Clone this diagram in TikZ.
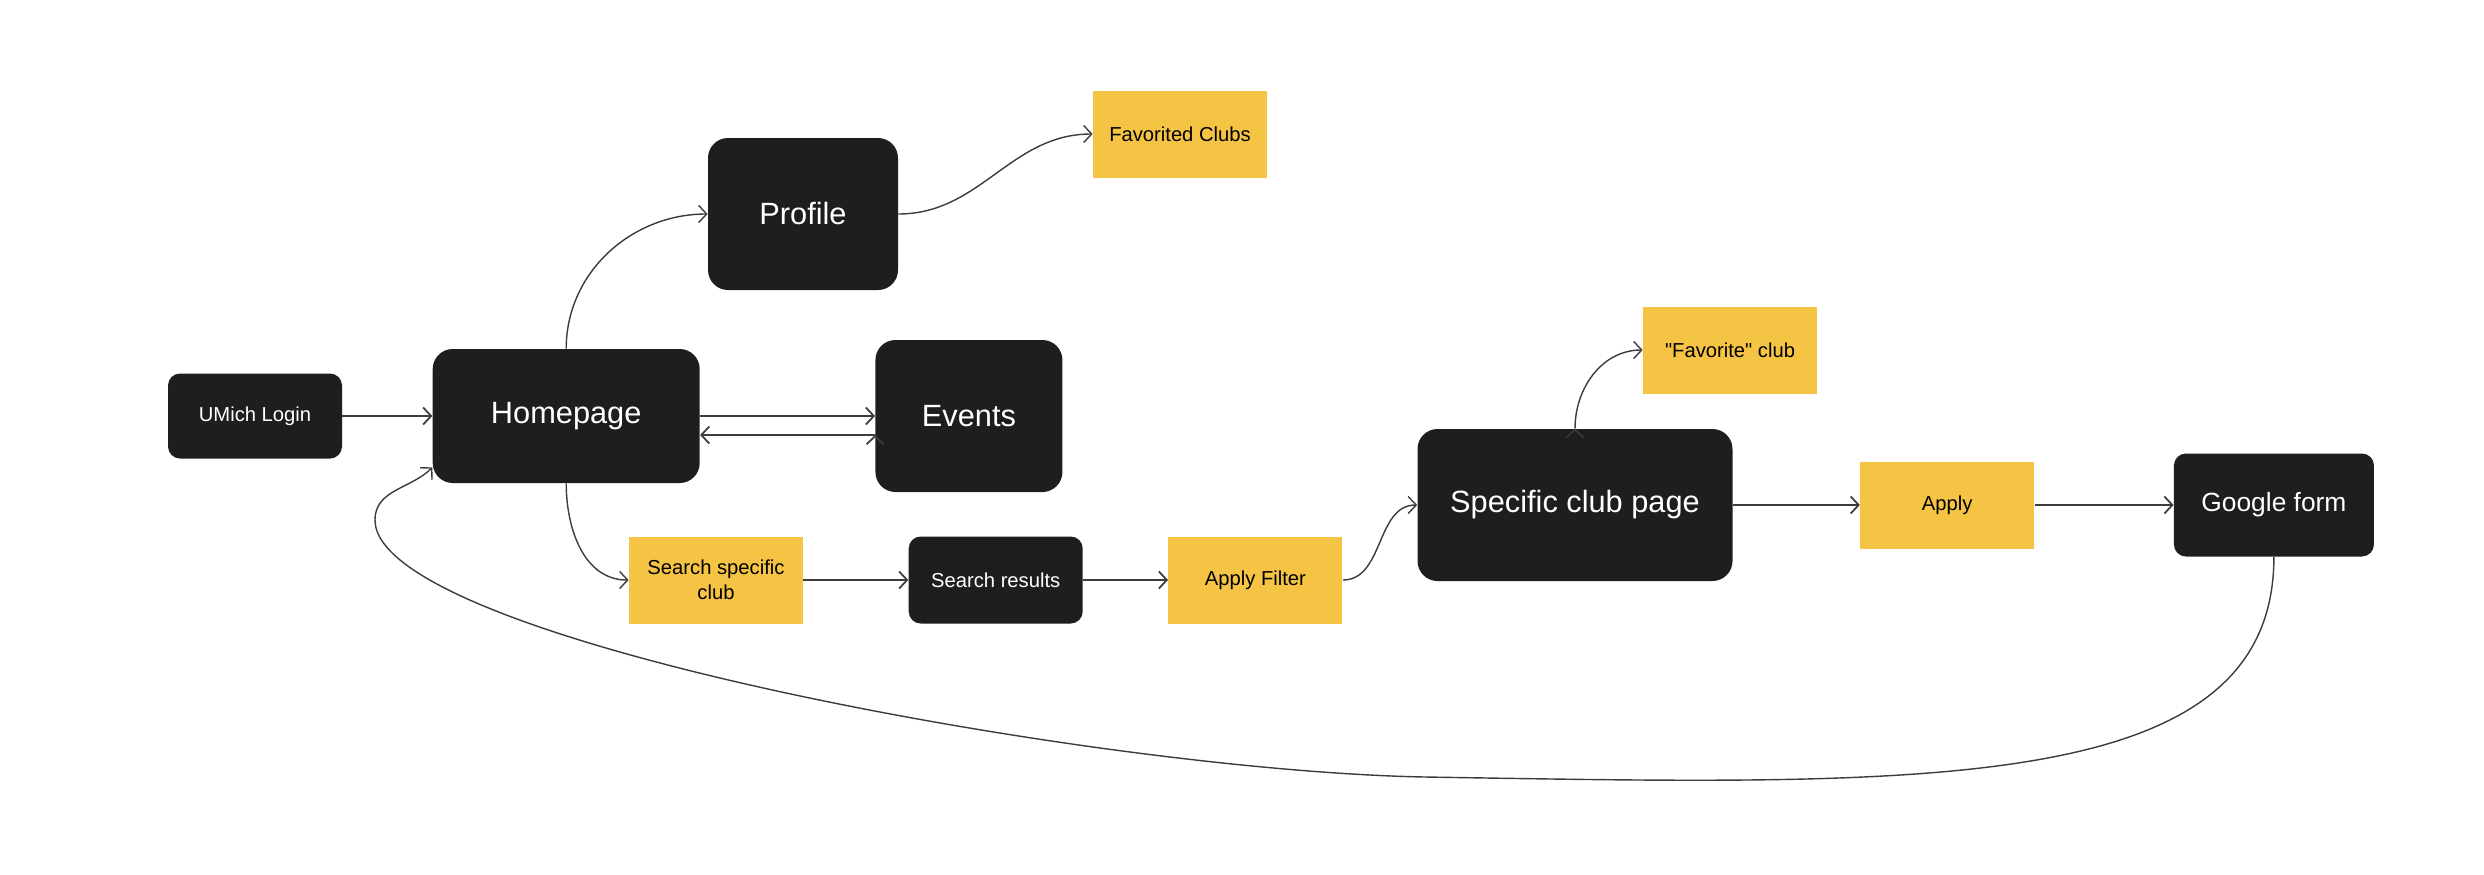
\documentclass[tikz,border=0pt]{standalone}
\usepackage{fontspec}
\setmainfont{Liberation Sans}
\usepackage{tikz}
\usetikzlibrary{positioning,arrows.meta,calc}
\definecolor{boxblack}{HTML}{1E1E1E}
\definecolor{boxyellow}{HTML}{F5C444}
\definecolor{linegray}{HTML}{3C3C3C}
\newcommand{\bigtxt}{\fontsize{17.5}{20}\selectfont}
\newcommand{\midtxt}{\fontsize{15}{18}\selectfont}
\newcommand{\smalltxt}{\fontsize{11.5}{14}\selectfont}
\tikzset{
  darkbox/.style args={#1,#2}{
  rectangle,
  rounded corners=2.4mm,
  fill=boxblack,
  text=white,
  align=center,
  minimum width=#1 mm,
  minimum height=#2 mm,
  },
  bigbox/.style args={#1,#2}{
  darkbox={#1,#2},
  rounded corners=4mm,
  font=\bigtxt,
  },
  notebox/.style={
  rectangle,
  fill=boxyellow,
  text=black,
  align=center,
  font=\smalltxt,
  minimum width=34.8mm,
  minimum height=17.4mm,
  },
  flow/.style={->,draw=linegray,line width=1pt},
  bendflow/.style={->,draw=linegray,line width=0.8pt}
}

\begin{document}
\begin{tikzpicture}[x=0.2mm,y=-0.2mm,
  >={Straight Barb[length=1.6mm,width=3.4mm]}]
    \useasboundingbox (0,0) rectangle (2484,874);
    \node [darkbox={34.8,17},font=\smalltxt] (login) at (255,416) {UMich Login};
    \node [bigbox={53.4,26.8},right=18mm of login] (home) {Homepage};
    \node [bigbox={37.4,30.4},right=35mm of home] (events) {Events};
    \node [bigbox={38,30.4}] (profile) at (803,214) {Profile};
    \node [notebox] (favs) at (1180,134) {Favorited Clubs};
    \node [notebox] (search) at (716,580) {Search specific\\club};
    \node [darkbox={34.8,17.4},font=\smalltxt,right=21mm of search] (results) {Search results};
    \node [notebox,right=17mm of results] (filter) {Apply Filter};
    \node [bigbox={63,30.4}] (club) at (1575,505) {Specific club page};
    \node [notebox] (favone) at (1730,350) {\textquotedbl Favorite\textquotedbl\ club};
    \node [notebox,right=25.4mm of club] (apply) {Apply};
    \node [darkbox={40,20.6},font=\midtxt,right=27.8mm of apply] (gform) {Google form};
    \coordinate (low) at (1425,777);
    \coordinate (far) at (375,520);
    \path [flow] (login) edge (home)
                 (home.east) edge (events.west)
                 ([yshift=-3.8mm]events.west) edge ([yshift=-3.8mm]home.east)
                 (search) edge (results)
                 (results) edge (filter)
                 (club) edge (apply)
                 (apply) edge (gform);
    \path [bendflow] (home.north) edge[out=90,in=180] (profile.west)
                     (profile.east) edge[out=0,in=180] (favs.west)
                     (home.south) edge[out=-90,in=180] (search.west)
                     (filter.east) edge[out=0,in=180] (club.west)
                     (club.north) edge[out=90,in=180] (favone.west);
    \draw [bendflow] (gform.south) .. controls +(0,240) and +(500,8) .. (low)
      .. controls (1100,771) and (375,640) .. (far) to[out=90,in=225] (home.201);
\end{tikzpicture}
\end{document}
